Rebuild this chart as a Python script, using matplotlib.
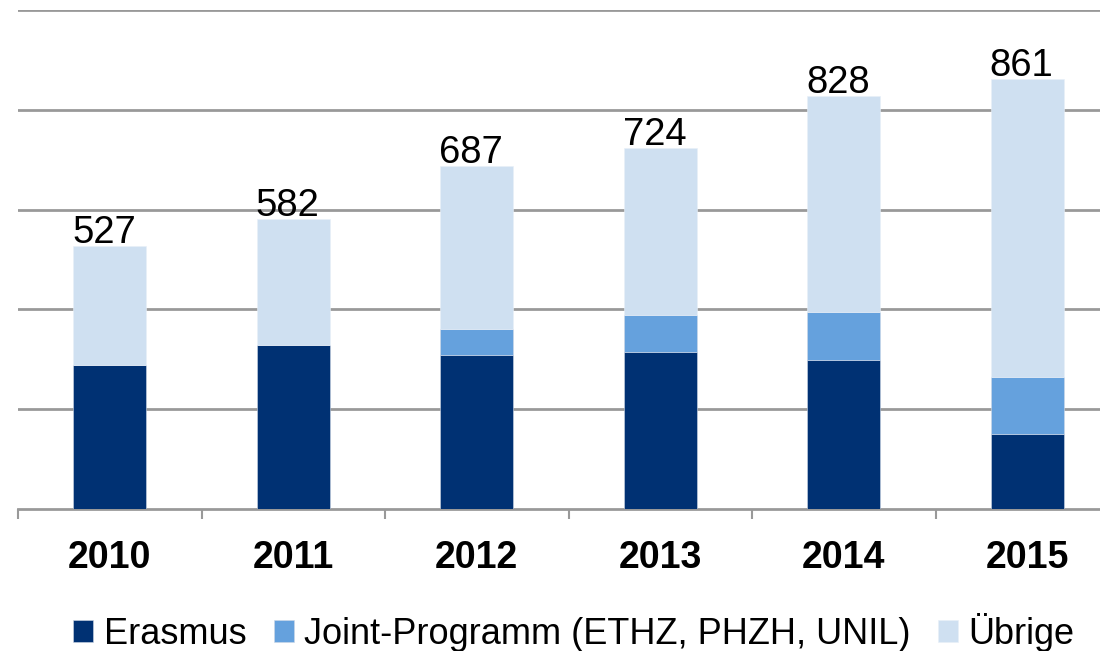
import matplotlib
matplotlib.use("Agg")
import matplotlib.pyplot as plt
import numpy as np

years = ["2010", "2011", "2012", "2013", "2014", "2015"]
erasmus = [288, 329, 309, 314, 298, 151]
joint = [0, 0, 52, 74, 97, 114]
uebrige = [239, 253, 326, 336, 433, 596]
totals = [527, 582, 687, 724, 828, 861]
series_names = ["Erasmus", "Joint-Programm (ETHZ, PHZH, UNIL)", "Übrige"]
colors = ["#003173", "#65A1DD", "#CFE0F1"]

plt.rcParams['font.family'] = ['Liberation Sans', 'DejaVu Sans']

W, H = 1100, 651
fig = plt.figure(figsize=(W / 100, H / 100), dpi=100)
ax = fig.add_axes([18 / W, (H - 509) / H, 1101 / W, (509 - 10) / H])

x = np.arange(len(years))
bw = 0.40
b1 = np.array(erasmus)
b2 = b1 + np.array(joint)
ax.bar(x, erasmus, bw, color=colors[0], label=series_names[0], zorder=3,
       edgecolor="#cfd8e6", linewidth=0.4)
ax.bar(x, joint, bw, bottom=b1, color=colors[1], label=series_names[1], zorder=3,
       edgecolor="#cfd8e6", linewidth=0.4)
ax.bar(x, uebrige, bw, bottom=b2, color=colors[2], label=series_names[2], zorder=3,
       edgecolor="#e8eff8", linewidth=0.4)

for xi, t in zip(x, totals):
    ax.text(xi - 0.03, t + 6, str(t), ha="center", va="baseline", fontsize=27.5,
            color="black", zorder=4)

ax.set_xlim(-0.5, len(years) - 0.5)
ax.set_ylim(0, 1000)
ax.set_yticks([200, 400, 600, 800, 1000])
ax.yaxis.grid(True, color="#999999", linewidth=2, zorder=0)
ax.tick_params(axis="y", left=False, labelleft=False)

ax.set_xticks(x)
ax.set_xticklabels(years, fontsize=27, fontweight="bold")
ax.set_xticks(np.arange(-0.5, len(years)), minor=True)
ax.tick_params(axis="x", which="major", length=0, pad=22)
ax.tick_params(axis="x", which="minor", length=7.5, width=1.5, color="#999999", direction="out")

for s in ["top", "right", "left"]:
    ax.spines[s].set_visible(False)
ax.spines["bottom"].set_color("#999999")
ax.spines["bottom"].set_linewidth(2)
ax.set_axisbelow(True)

handles, labels = ax.get_legend_handles_labels()
fig.legend(handles, labels, loc="center", bbox_to_anchor=(574 / W, 1 - 632 / H), ncol=3,
           frameon=False, fontsize=26, handlelength=0.55, handleheight=0.55,
           handletextpad=0.3, columnspacing=0.75, borderaxespad=0)

fig.savefig("out.png", dpi=100)
